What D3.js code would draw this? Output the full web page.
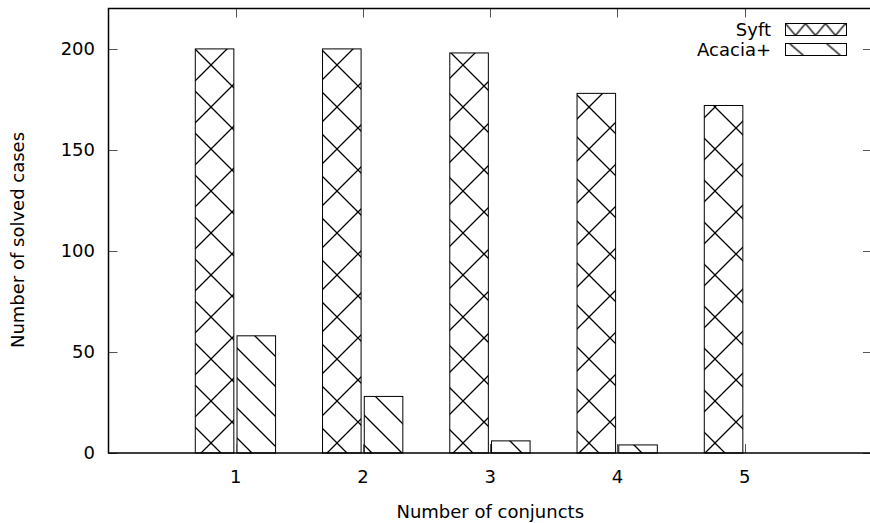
<!DOCTYPE html>
<html>
<head>
<meta charset="utf-8">
<script src="https://cdn.jsdelivr.net/npm/d3@7"></script>
<style>
  body { margin: 0; background: #fff; }
  text { font-family: "DejaVu Sans", sans-serif; font-size: 18px; fill: #000; }
</style>
</head>
<body>
<svg id="chart" width="870" height="523"></svg>
<script>
// Data
const conjuncts = [1, 2, 3, 4, 5];
const syftSolved = [200, 200, 198, 178, 172];
const acaciaSolved = [58, 28, 6, 4, 0];
const yTicks = [0, 50, 100, 150, 200];
const seriesNames = ["Syft", "Acacia+"];

// Plot box (right border falls just outside the picture)
const plot = { left: 108.5, top: 8.5, right: 872, bottom: 453 };

const svg = d3.select("#chart");

const x = d3.scaleLinear().domain([0, 6]).range([plot.left, plot.right]);
const y = d3.scaleLinear().domain([0, 220]).range([plot.bottom, plot.top]);

// Fill patterns
const defs = svg.append("defs");

const cross = defs.append("pattern")
    .attr("id", "cross")
    .attr("patternUnits", "userSpaceOnUse")
    .attr("width", 42).attr("height", 42)
    .attr("patternTransform", "translate(1,23)");
cross.append("path")
    .attr("d", "M-4,-4L46,46M46,-4L-4,46M-4,38L4,46M38,-4L46,4M-4,4L4,-4M38,46L46,38")
    .attr("stroke", "#000").attr("stroke-width", 1.3).attr("fill", "none");

const diag = defs.append("pattern")
    .attr("id", "diag")
    .attr("patternUnits", "userSpaceOnUse")
    .attr("width", 30).attr("height", 30)
    .attr("patternTransform", "translate(9,0)");
diag.append("path")
    .attr("d", "M-4,-4L34,34M-4,26L4,34M26,-4L34,4")
    .attr("stroke", "#000").attr("stroke-width", 1.3).attr("fill", "none");

// Legend swatches use a smaller pattern
const keyBox = { x: 785.5, w: 61, h: 12, rows: [23.5, 43.5] };

const crossKey = defs.append("pattern")
    .attr("id", "crossKey")
    .attr("patternUnits", "userSpaceOnUse")
    .attr("width", 20).attr("height", 24)
    .attr("patternTransform", `translate(${keyBox.x},${keyBox.rows[0]})`);
crossKey.append("path")
    .attr("d", "M0,0L20,24M20,0L0,24")
    .attr("stroke", "#000").attr("stroke-width", 1.3).attr("fill", "none");

const diagKey = defs.append("pattern")
    .attr("id", "diagKey")
    .attr("patternUnits", "userSpaceOnUse")
    .attr("width", 37).attr("height", 12)
    .attr("patternTransform", `translate(${keyBox.x},${keyBox.rows[1]})`);
diagKey.append("path")
    .attr("d", "M4,0L18,12")
    .attr("stroke", "#000").attr("stroke-width", 1.3).attr("fill", "none");

// Bars
const bars = svg.append("g");

bars.selectAll(".syft")
    .data(conjuncts)
    .enter().append("rect")
    .attr("class", "syft")
    .attr("x", d => x(d - 0.318))
    .attr("y", (d, i) => y(syftSolved[i]))
    .attr("width", x(0.303) - x(0))
    .attr("height", (d, i) => y(0) - y(syftSolved[i]))
    .attr("fill", "url(#cross)")
    .attr("stroke", "#000")
    .attr("stroke-width", 1);

bars.selectAll(".acacia")
    .data(conjuncts.filter((d, i) => acaciaSolved[i] > 0))
    .enter().append("rect")
    .attr("class", "acacia")
    .attr("x", d => x(d + 0.01))
    .attr("y", d => y(acaciaSolved[d - 1]))
    .attr("width", x(0.303) - x(0))
    .attr("height", d => y(0) - y(acaciaSolved[d - 1]))
    .attr("fill", "url(#diag)")
    .attr("stroke", "#000")
    .attr("stroke-width", 1);

// Axes (ticks pointing inward, mirrored on the other side)
const tickLen = 9;
const axes = svg.append("g");

axes.selectAll(".ytick-l")
    .data(yTicks)
    .enter().append("line")
    .attr("x1", plot.left).attr("x2", plot.left + tickLen)
    .attr("y1", d => Math.round(y(d)) + 0.5).attr("y2", d => Math.round(y(d)) + 0.5)
    .attr("stroke", "#555");

axes.selectAll(".ytick-r")
    .data(yTicks)
    .enter().append("line")
    .attr("x1", plot.right - tickLen).attr("x2", plot.right)
    .attr("y1", d => Math.round(y(d)) + 0.5).attr("y2", d => Math.round(y(d)) + 0.5)
    .attr("stroke", "#555");

axes.selectAll(".xtick-b")
    .data(conjuncts)
    .enter().append("line")
    .attr("x1", d => Math.round(x(d)) + 0.5).attr("x2", d => Math.round(x(d)) + 0.5)
    .attr("y1", plot.bottom).attr("y2", plot.bottom - tickLen)
    .attr("stroke", "#555");

axes.selectAll(".xtick-t")
    .data(conjuncts)
    .enter().append("line")
    .attr("x1", d => Math.round(x(d)) + 0.5).attr("x2", d => Math.round(x(d)) + 0.5)
    .attr("y1", plot.top).attr("y2", plot.top + tickLen)
    .attr("stroke", "#555");

axes.selectAll(".ylabel")
    .data(yTicks)
    .enter().append("text")
    .attr("x", 95)
    .attr("y", d => y(d))
    .attr("dy", "0.35em")
    .attr("text-anchor", "end")
    .text(d => d);

axes.selectAll(".xlabel")
    .data(conjuncts)
    .enter().append("text")
    .attr("x", d => x(d))
    .attr("y", 477)
    .attr("dy", "0.35em")
    .attr("text-anchor", "middle")
    .text(d => d);

// Border
svg.append("rect")
    .attr("x", plot.left).attr("y", plot.top)
    .attr("width", plot.right - plot.left)
    .attr("height", plot.bottom - plot.top)
    .attr("fill", "none")
    .attr("stroke", "#000")
    .attr("stroke-width", 1.5);

// Axis titles
svg.append("text")
    .attr("x", (plot.left + plot.right) / 2)
    .attr("y", 512)
    .attr("dy", "0.35em")
    .attr("text-anchor", "middle")
    .text("Number of conjuncts");

svg.append("text")
    .attr("transform", "translate(18,240) rotate(-90)")
    .attr("dy", "0.35em")
    .attr("text-anchor", "middle")
    .text("Number of solved cases");

// Legend
const legend = svg.append("g");
const keyFills = ["url(#crossKey)", "url(#diagKey)"];

legend.selectAll("rect")
    .data(seriesNames)
    .enter().append("rect")
    .attr("x", keyBox.x)
    .attr("y", (d, i) => keyBox.rows[i])
    .attr("width", keyBox.w)
    .attr("height", keyBox.h)
    .attr("fill", (d, i) => keyFills[i])
    .attr("stroke", "#000");

legend.selectAll("text")
    .data(seriesNames)
    .enter().append("text")
    .attr("x", 771)
    .attr("y", (d, i) => keyBox.rows[i] + keyBox.h / 2)
    .attr("dy", "0.35em")
    .attr("text-anchor", "end")
    .text(d => d);
</script>
</body>
</html>
